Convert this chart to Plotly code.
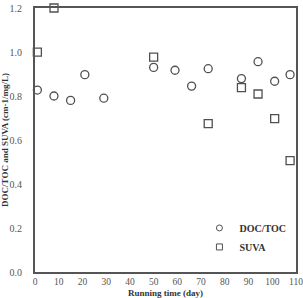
import plotly.graph_objects as go

days = [1, 8, 15, 21, 29, 50, 59, 66, 73, 87, 94, 101, 107.5]
doc_toc = [0.827, 0.80, 0.78, 0.897, 0.79, 0.93, 0.917, 0.845, 0.924, 0.879, 0.956, 0.867, 0.897]
suva_days = [1, 8, 50, 73, 87, 94, 101, 107.5]
suva = [0.999, 1.2, 0.977, 0.674, 0.838, 0.809, 0.697, 0.506]

x_ticks = [0, 10, 20, 30, 40, 50, 60, 70, 80, 90, 100, 110]
y_ticks = [0.0, 0.2, 0.4, 0.6, 0.8, 1.0, 1.2]

serif = "Liberation Serif"
mcol = "#505050"

fig = go.Figure()
fig.add_trace(go.Scatter(
    x=days, y=doc_toc, mode="markers", name="DOC/TOC", showlegend=False,
    marker=dict(symbol="circle-open", size=8, color=mcol, line=dict(width=1.3, color=mcol)),
    cliponaxis=False,
))
fig.add_trace(go.Scatter(
    x=suva_days, y=suva, mode="markers", name="SUVA", showlegend=False,
    marker=dict(symbol="square-open", size=8, color=mcol, line=dict(width=1.3, color=mcol)),
    cliponaxis=False,
))
# legend entries with smaller symbols
fig.add_trace(go.Scatter(
    x=[None], y=[None], mode="markers", name="DOC/TOC",
    marker=dict(symbol="circle-open", size=6, color=mcol, line=dict(width=1, color=mcol)),
))
fig.add_trace(go.Scatter(
    x=[None], y=[None], mode="markers", name="SUVA",
    marker=dict(symbol="square-open", size=6, color=mcol, line=dict(width=1, color=mcol)),
))

axis_common = dict(
    showline=True, linecolor="#555555", linewidth=1.8, mirror=True,
    showgrid=False, zeroline=False, ticks="", automargin=False,
    ticklabeloverflow="allow",
)

fig.update_layout(
    width=303, height=298,
    margin=dict(l=35, r=7, t=8, b=26),
    paper_bgcolor="white", plot_bgcolor="white",
    showlegend=True,
    legend=dict(
        x=0.63, y=0.04, xanchor="left", yanchor="bottom",
        font=dict(family=serif, size=10, color="#333333", weight="bold"),
        bgcolor="rgba(0,0,0,0)", itemwidth=30, tracegroupgap=6,
    ),
    xaxis=dict(
        range=[0, 110], tickvals=x_ticks,
        ticktext=[str(t) for t in x_ticks],
        ticklabelstandoff=0,
        tickfont=dict(family=serif, size=9.5, color="#555555"),
        **axis_common,
    ),
    yaxis=dict(
        range=[0, 1.2], tickvals=y_ticks,
        ticktext=[f"{t:.1f}" for t in y_ticks],
        ticklabelstandoff=9,
        tickfont=dict(family=serif, size=10, color="#555555"),
        title=dict(text="DOC/TOC and SUVA (cm-1/mg/L)", font=dict(family=serif, size=9, color="#333333", weight="bold"), standoff=4),
        **axis_common,
    ),
    annotations=[dict(
        text="Running time (day)", xref="paper", yref="paper",
        x=0.5, y=-0.078, xanchor="center", yanchor="middle", showarrow=False,
        font=dict(family=serif, size=9, color="#333333", weight="bold"),
    )],
)

fig.write_html("out.html")
